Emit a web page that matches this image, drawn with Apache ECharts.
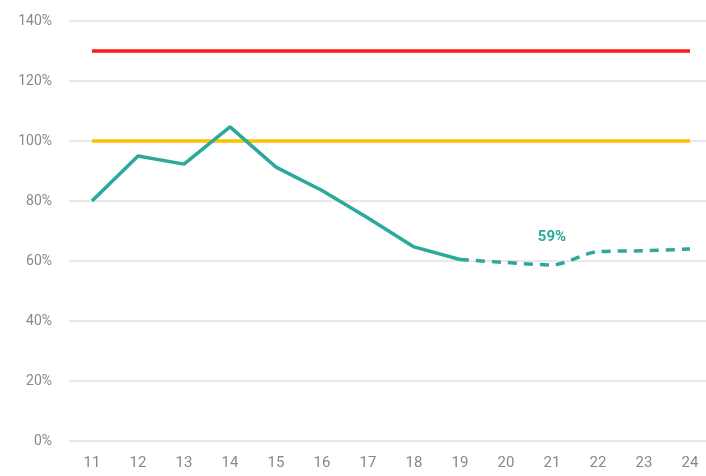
<!DOCTYPE html>
<html>
<head>
<meta charset="utf-8">
<script src="https://cdn.jsdelivr.net/npm/echarts@6/dist/echarts.min.js"></script>
<style>
  html, body { margin: 0; padding: 0; background: #fff; }
  #main { width: 706px; height: 476px; }
</style>
</head>
<body>
<div id="main"></div>
<script>
const categories = ['11', '12', '13', '14', '15', '16', '17', '18', '19', '20', '21', '22', '23', '24'];
// actual values (solid), up to 19
const actual = [80, 95, 92.3, 104.7, 91.3, 83.5, 74.3, 64.7, 60.5, null, null, null, null, null];
// forecast values (dashed), from 19 on
const forecast = [null, null, null, null, null, null, null, null, 60.5, 59.5, 58.7, 63.1, 63.4, 64];
const upperLimit = [130, 130, 130, 130, 130, 130, 130, 130, 130, 130, 130, 130, 130, 130];
const target = [100, 100, 100, 100, 100, 100, 100, 100, 100, 100, 100, 100, 100, 100];
const labelIndex = 10;   // "59%" sits above 21

const teal = '#2BA99A';
const chart = echarts.init(document.getElementById('main'));

const forecastData = forecast.map((v, i) => {
  if (i !== labelIndex) return v;
  return {
    value: v,
    label: {
      show: true,
      position: 'top',
      distance: 20,
      formatter: '59%',
      color: teal,
      fontSize: 15,
      fontWeight: 'bold',
      fontFamily: 'Roboto'
    }
  };
});

chart.setOption({
  animation: false,
  grid: { left: 69, right: -7, top: 21, bottom: 35, outerBoundsMode: 'none' },
  xAxis: {
    type: 'category',
    data: categories,
    boundaryGap: true,
    axisLine: { show: false },
    axisTick: { show: false },
    axisLabel: { color: '#888', fontSize: 15, fontFamily: 'Roboto', margin: 15 }
  },
  yAxis: {
    type: 'value',
    min: 0,
    max: 140,
    interval: 20,
    axisLine: { show: false },
    axisTick: { show: false },
    axisLabel: { color: '#888', fontSize: 14, fontFamily: 'Roboto', margin: 17, formatter: '{value}%' },
    splitLine: { lineStyle: { color: '#e8e8e8', width: 2 } }
  },
  series: [
    {
      type: 'line', data: upperLimit, symbol: 'none',
      lineStyle: { color: '#FF1A1A', width: 3.5 }
    },
    {
      type: 'line', data: target, symbol: 'none',
      lineStyle: { color: '#FFC000', width: 3.5 }
    },
    {
      type: 'line', data: actual, symbol: 'none',
      lineStyle: { color: teal, width: 3.5 }
    },
    {
      // zero-size symbols so the one label has something to hang on
      type: 'line', data: forecastData, symbol: 'circle', symbolSize: 0, smooth: 0.3,
      lineStyle: { color: teal, width: 3.5, type: [9, 7] }
    }
  ]
});
</script>
</body>
</html>
